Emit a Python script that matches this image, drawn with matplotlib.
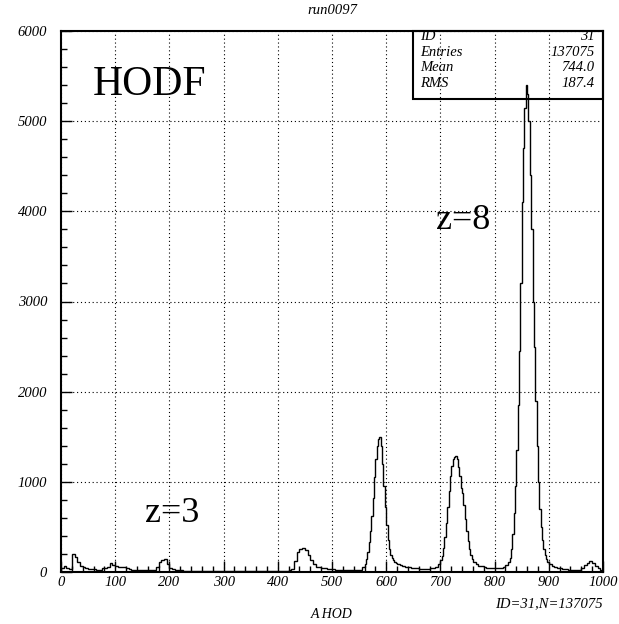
import numpy as np
import matplotlib.pyplot as plt
from matplotlib.patches import Rectangle
from matplotlib.ticker import MultipleLocator

# A HOD spectrum: 5-channel bins, 2.5-channel bins across the three big peaks
counts_low = [  # 0 - 560
    40, 65, 40, 28, 196, 170, 115, 65, 52, 42,
    35, 30, 28, 26, 25, 42, 47, 55, 100, 82,
    62, 58, 50, 50, 45, 35, 27, 26, 25, 24,
    22, 20, 20, 19, 22, 60, 113, 135, 140, 85,
    42, 30, 24, 20, 18, 15, 14, 14, 13, 13,
    12, 12, 12, 11, 12, 11, 11, 10, 11, 10,
    10, 10, 11, 10, 10, 10, 9, 10, 10, 9,
    10, 10, 11, 10, 10, 11, 12, 12, 13, 12,
    12, 13, 14, 16, 20, 35, 120, 220, 255, 262,
    240, 190, 135, 90, 60, 50, 45, 40, 35, 32,
    30, 27, 25, 22, 21, 20, 20, 21, 22, 23,
    25, 50,
]
counts_p590 = [  # 560 - 620
    90, 140, 220, 330, 460, 620, 820, 1050, 1250, 1400, 1480, 1495,
    1400, 1200, 950, 720, 520, 360, 250, 190, 155, 130, 115, 100,
]
counts_mid = [  # 620 - 700
    90, 75, 65, 58, 50, 45, 42, 40, 38, 37, 36, 36, 42, 48, 58, 85,
]
counts_p730 = [  # 700 - 760
    130, 180, 270, 390, 540, 720, 900, 1060, 1180, 1250, 1280, 1290,
    1250, 1170, 1060, 930, 880, 740, 590, 460, 340, 250, 185, 140,
]
counts_valley = [  # 760 - 825
    110, 90, 72, 62, 55, 48, 44, 40, 40, 42, 48, 60, 80,
]
counts_p860 = [  # 825 - 900
    110, 160, 260, 420, 650, 950, 1350, 1850, 2450, 3200, 4100, 4700,
    5150, 5400, 5300, 5000, 4400, 3800, 3000, 2500, 1900, 1400, 1000, 700,
    500, 350, 250, 190, 140, 110,
]
counts_high = [  # 900 - 1000
    90, 70, 55, 45, 40, 35, 30, 27, 24, 22,
    20, 25, 45, 75, 105, 125, 105, 70, 40, 20,
]

stat_names = ["ID", "Entries", "Mean", "RMS"]
stat_values = ["31", "137075", "744.0", "187.4"]

bin_edges = np.concatenate([
    np.arange(0, 560, 5), np.arange(560, 620, 2.5), np.arange(620, 700, 5),
    np.arange(700, 760, 2.5), np.arange(760, 825, 5), np.arange(825, 900, 2.5),
    np.arange(900, 1005, 5),
])
counts = (counts_low + counts_p590 + counts_mid + counts_p730
          + counts_valley + counts_p860 + counts_high)

serif = "Liberation Serif"
small = 10.5

W, H = 619, 624
fig = plt.figure(figsize=(W / 100, H / 100), dpi=100)
ax = fig.add_axes([61 / W, 1 - 572 / H, 542 / W, 541 / H])

ax.stairs(counts, bin_edges, color="black", lw=1.0, zorder=3)

ax.set_xlim(0, 1000)
ax.set_ylim(0, 6000)
ax.xaxis.set_major_locator(MultipleLocator(100))
ax.xaxis.set_minor_locator(MultipleLocator(20))
ax.yaxis.set_major_locator(MultipleLocator(1000))
ax.yaxis.set_minor_locator(MultipleLocator(200))
ax.tick_params(which="both", direction="in", color="black", width=1.0)
ax.tick_params(which="major", length=8)
ax.tick_params(which="minor", length=4)
ax.tick_params(axis="y", pad=10)
ax.tick_params(axis="x", pad=3)
for lab in ax.get_xticklabels() + ax.get_yticklabels():
    lab.set_fontfamily(serif)
    lab.set_fontstyle("italic")
    lab.set_fontsize(small)

ax.grid(True, which="major", color="black", linestyle=(0, (1, 2.5)), lw=0.8)
for sp in ax.spines.values():
    sp.set_linewidth(1.5)

# statistics box, transparent so the grid shows through
box = Rectangle((650, 5245), 350, 755, fill=False, edgecolor="black", lw=1.5,
                zorder=4, clip_on=False)
ax.add_patch(box)
row_y = [5942, 5765, 5593, 5421]
for name, val, y in zip(stat_names, stat_values, row_y):
    ax.text(663, y, name, ha="left", va="center", fontsize=small,
            family=serif, style="italic", zorder=5)
    ax.text(984, y, val, ha="right", va="center", fontsize=small,
            family=serif, style="italic", zorder=5)

ax.text(59, 5290, "HODF", fontsize=30, family=serif, ha="left", va="baseline")
ax.text(692, 3800, "z=8", fontsize=26, family=serif, ha="left", va="baseline")
ax.text(155, 555, "z=3", fontsize=26, family=serif, ha="left", va="baseline")

fig.text(332 / W, 1 - 11 / H, "run0097", ha="center", va="center",
         fontsize=small, family=serif, style="italic")
fig.text(603 / W, 1 - 604 / H, "ID=31,N=137075", ha="right", va="center",
         fontsize=small, family=serif, style="italic")
fig.text(332 / W, 1 - 615 / H, "A HOD", ha="center", va="center",
         fontsize=small - 0.5, family=serif, style="italic")

fig.savefig("out.png", dpi=100, facecolor="white")
